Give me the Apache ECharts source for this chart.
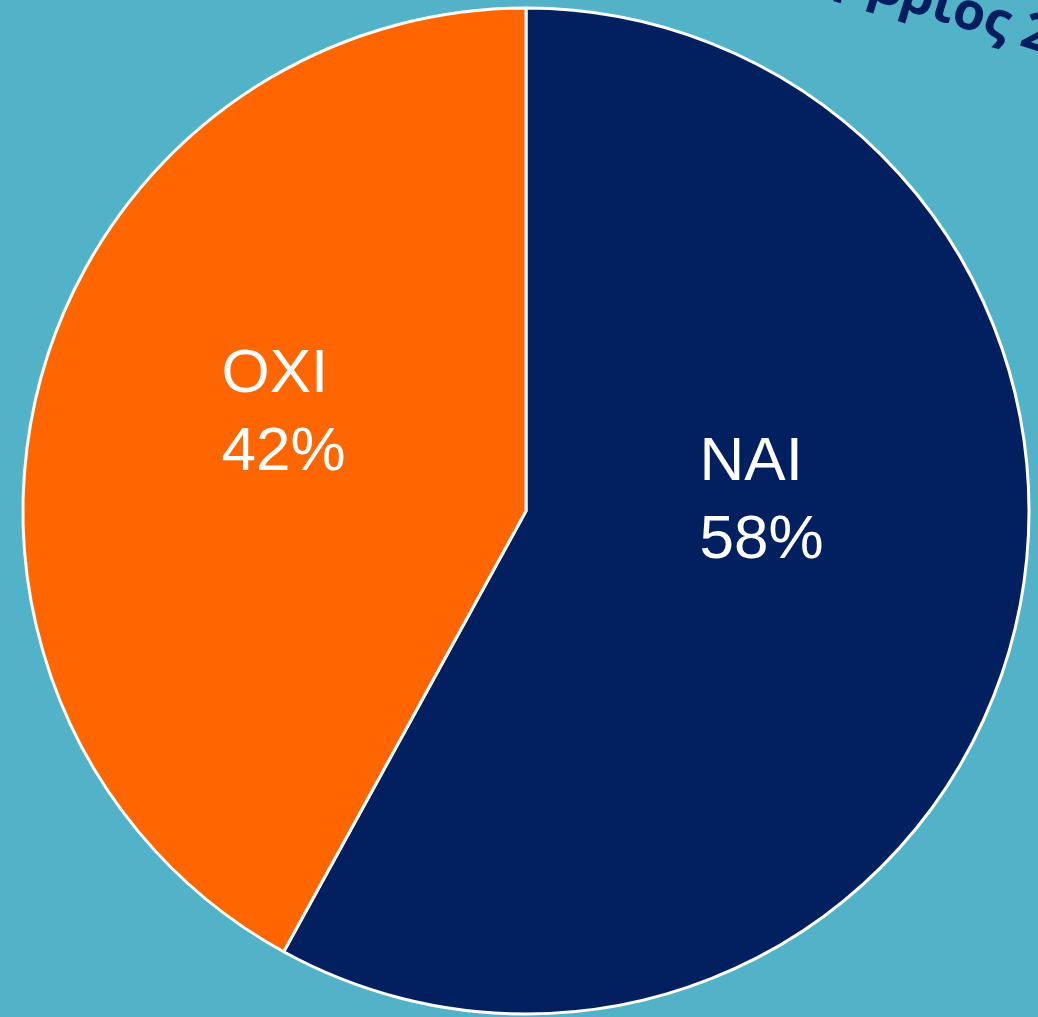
<!DOCTYPE html>
<html>
<head>
<meta charset="utf-8">
<script src="https://cdn.jsdelivr.net/npm/echarts@6/dist/echarts.min.js"></script>
<style>
  html, body { margin: 0; padding: 0; background: #52b3c8; }
  #chart { width: 1038px; height: 1017px; }
</style>
</head>
<body>
<div id="chart"></div>
<script>
var categories = ['ΝΑΙ', 'ΟΧΙ'];
var values = [58, 42];
var colorList = ['#022060', '#ff6600'];
var headText = ['Σεπτέμβ', 'ριος 2021'];

var myChart = echarts.init(document.getElementById('chart'));

// label nudges (dx, dy) from the default inside position
var shift = [[-73, -72], [-58, -34]];

var headStyle = {
	fill: '#021e5e',
	font: 'bold 52px "Open Sans", sans-serif',
	textVerticalAlign: 'middle'
};

var option = {
	backgroundColor: '#52b3c8',
	animation: false,
	graphic: [{
		type: 'text',
		x: 903, y: -6,
		rotation: -0.3,
		style: Object.assign({ text: headText[1], textAlign: 'left' }, headStyle)
	}, {
		type: 'text',
		x: 903, y: -6,
		rotation: -0.3,
		style: Object.assign({ text: headText[0], textAlign: 'right' }, headStyle)
	}],
	series: [{
		type: 'pie',
		center: [526, 511],
		radius: 503,
		startAngle: 90,
		clockwise: true,
		itemStyle: {
			borderColor: '#ffffff',
			borderWidth: 3
		},
		label: {
			show: true,
			position: 'inside',
			formatter: '{b}\n{c}%',
			color: '#ffffff',
			fontFamily: '"Liberation Sans", Arial, sans-serif',
			fontSize: 62,
			lineHeight: 78,
			align: 'left',
			verticalAlign: 'middle'
		},
		labelLayout: function(params) {
			var s = shift[params.dataIndex];
			return { dx: s[0], dy: s[1], align: 'left' };
		},
		emphasis: { disabled: true },
		data: categories.map(function(name, i) {
			return {
				name: name,
				value: values[i],
				itemStyle: { color: colorList[i] }
			};
		})
	}]
};

myChart.setOption(option);
</script>
</body>
</html>
